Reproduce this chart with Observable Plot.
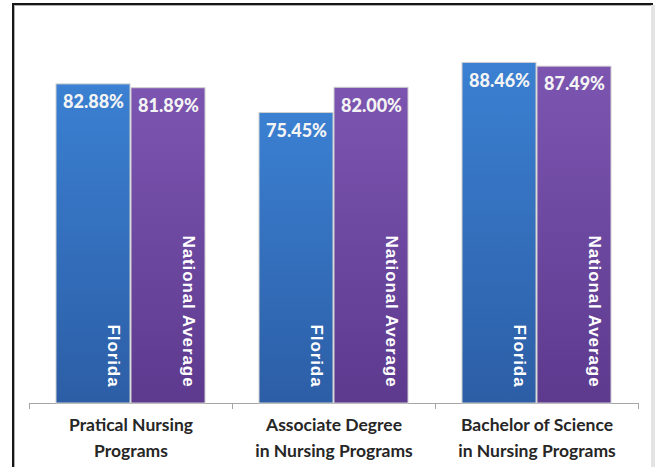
<!DOCTYPE html>
<html><head><meta charset="utf-8">
<script src="https://cdn.jsdelivr.net/npm/d3@7"></script>
<script src="https://cdn.jsdelivr.net/npm/@observablehq/plot@0.6"></script>
<style>
body{margin:0;background:#fff;}
#wrap{position:relative;width:655px;height:467px;overflow:hidden;}
#wrap svg{position:absolute;left:0;top:0;}
#border{position:absolute;left:12px;top:3px;width:639px;height:480px;border-top:2px solid #161616;border-left:2px solid #161616;box-shadow:inset 1px 1px 0 #b0b0b0;}
#rightband{position:absolute;left:651px;top:5px;width:4px;height:470px;background:#e4e4e4;}
.slabel text{letter-spacing:0.9px;}
</style></head>
<body><div id="wrap"></div>
<script>
const groups = ["Pratical Nursing\nPrograms", "Associate Degree\nin Nursing Programs", "Bachelor of Science\nin Nursing Programs"];
const series = ["Florida", "National Average"];
const florida = [82.88, 75.45, 88.46];
const national = [81.89, 82.00, 87.49];

const data = groups.flatMap((g, i) => [
  {group: g, series: series[0], value: florida[i]},
  {group: g, series: series[1], value: national[i]}
]);

const chart = Plot.plot({
  width: 655, height: 467,
  marginLeft: 28, marginRight: 16, marginTop: 18, marginBottom: 59,
  style: {background: "transparent", fontFamily: "Lato", color: "#262626"},
  fx: {domain: groups, padding: 0, label: null},
  x: {domain: series, paddingInner: 0.015, paddingOuter: 0.36, axis: null},
  y: {domain: [0, 100], insetBottom: 5, axis: null},
  color: {type: "ordinal", domain: series, range: ["url(#gFL)", "url(#gNA)"]},
  marks: [
    Plot.frame({anchor: "left", stroke: "#a6a6a6", insetTop: 385}),
    Plot.frame({anchor: "right", stroke: "#a6a6a6", insetTop: 385}),
    Plot.ruleY([0], {stroke: "#a6a6a6"}),
    Plot.barY(data, {fx: "group", x: "series", y: "value", fill: "series", stroke: "#cfcfcf", strokeWidth: 1}),
    Plot.text(data, {fx: "group", x: "series", y: "value", text: d => d3.format(".2f")(d.value) + "%",
      fill: "#f4f4f4", fontWeight: 900, fontSize: 18, fontFamily: "Lato", dy: 18, lineAnchor: "middle"}),
    Plot.text(data, {fx: "group", x: "series", y: () => 0, text: "series", rotate: 90, textAnchor: "end",
      lineAnchor: "middle", dx: 20, dy: -16, fill: "white", fontWeight: "bold", fontSize: 17,
      fontFamily: "'Liberation Sans', Arial, sans-serif", className: "slabel"}),
    Plot.axisFx({anchor: "bottom", tickSize: 0, tickPadding: 4, fontSize: 17.5, fontWeight: "bold",
      lineHeight: 1.5, label: null, fontFamily: "Lato"})
  ]
});

const svg = d3.select(chart);
const defs = svg.insert("defs", ":first-child");
function grad(id, top, bottom) {
  const g = defs.append("linearGradient").attr("id", id).attr("x1", 0).attr("y1", 0).attr("x2", 0).attr("y2", 1);
  g.append("stop").attr("offset", "0%").attr("stop-color", top);
  g.append("stop").attr("offset", "100%").attr("stop-color", bottom);
}
grad("gFL", "#3b80d2", "#2c5ea6");
grad("gNA", "#7c55b1", "#5d3a8e");

const wrap = document.getElementById("wrap");
wrap.appendChild(chart);
const b = document.createElement("div"); b.id = "border"; wrap.appendChild(b);
const r = document.createElement("div"); r.id = "rightband"; wrap.appendChild(r);
</script>
</body></html>
